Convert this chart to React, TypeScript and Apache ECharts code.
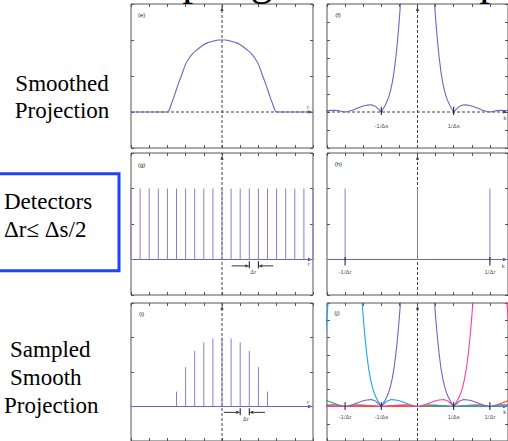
import React, { useEffect, useRef } from "react";
import * as echarts from "echarts";

// ---------- data ----------
// (e) smoothed projection p(r)
const smoothR = [-5, -3, -2.8, -2.6, -2.4, -2.2, -2, -1.8, -1.6, -1.4, -1.2, -1, -0.8, -0.6, -0.4, -0.2, 0, 0.2, 0.4, 0.6, 0.8, 1, 1.2, 1.4, 1.6, 1.8, 2, 2.2, 2.4, 2.6, 2.8, 3, 5];
const smoothP = [0, 0, 0.2, 0.48, 0.78, 1.05, 1.33, 1.5, 1.63, 1.72, 1.8, 1.87, 1.92, 1.95, 1.98, 2, 2, 2, 1.98, 1.95, 1.92, 1.87, 1.8, 1.72, 1.63, 1.5, 1.33, 1.05, 0.78, 0.48, 0.2, 0, 0];

// (g) detector comb
const detectorR = [-5, -4.5, -4, -3.5, -3, -2.5, -2, -1.5, -1, -0.5, 0, 0.5, 1, 1.5, 2, 2.5, 3, 3.5, 4, 4.5, 5];
const detectorP = [2, 2, 2, 2, 2, 2, 2, 2, 2, 2, 2, 2, 2, 2, 2, 2, 2, 2, 2, 2, 2];

// (h) spectrum of the comb
const detectorK = [-4, 0, 4];
const detectorA = [2, 2, 2];

// (i) sampled projection
const sampledR = [-2.5, -2, -1.5, -1, -0.5, 0, 0.5, 1, 1.5, 2, 2.5];
const sampledP = [0.43, 1.14, 1.61, 1.86, 1.97, 2, 1.97, 1.86, 1.61, 1.14, 0.43];

// (f) spectrum magnitude, one half (|k| offset -> value), mirrored about its centre
const specOffset = [0.8, 0.9, 1.0, 1.1, 1.2, 1.3, 1.4, 1.5, 1.6, 1.7, 1.8, 1.9, 2.0, 2.15, 2.3, 2.55, 2.8, 3.0, 3.3, 3.6, 3.85, 4.0, 4.3, 4.6, 5.0, 5.5, 6.0, 6.5, 7.0, 7.5, 8.0, 9.0, 10.0, 11.0, 12.0, 13.0, 14.0, 15.0, 17.0];
const specValue = [8.5, 6.6, 5.2, 4.0, 3.0, 2.2, 1.6, 1.15, 0.8, 0.55, 0.35, 0.17, 0, 0.16, 0.3, 0.4, 0.38, 0.33, 0.22, 0.1, 0.03, 0, 0.06, 0.1, 0.08, 0.04, 0, 0.04, 0.05, 0.03, 0, 0.02, 0, 0.02, 0, 0.01, 0, 0.01, 0];

// (j) aliased replicas of the spectrum
const aliasCenters = [-12, 12, -8, 8, -4, 4, 0];
const aliasColors = ["#e8c000", "#e8c000", "#2eaa44", "#ff4c1c", "#1da4ea", "#ff3c98", "#7561c6"];

const fMarkK = [-2, 2];
const fMarkText = ["-1/Δs", "1/Δs"];
const hMarkK = [-4, 4];
const hMarkText = ["-1/Δr", "1/Δr"];
const jMarkK = [-4, -2, 2, 4];
const jMarkText = ["-1/Δr", "-1/Δs", "1/Δs", "1/Δr"];
const panelTags = ["(e)", "(f)", "(g)", "(h)", "(i)", "(j)"];

// ---------- layout ----------
const PURPLE = "#7561c6";
const STICK = "#8e7ad2";
const W = 182;
const PANELS = [
  { left: 131, top: 4, height: 144, ymin: -1, ymax: 3, tag: [141.7, 15] },
  { left: 327, top: 4, height: 144, ymin: -2, ymax: 6, tag: [338, 15] },
  { left: 131, top: 153, height: 142, ymin: -1, ymax: 3, tag: [141.7, 165] },
  { left: 327, top: 153, height: 142, ymin: -1, ymax: 3, tag: [338.3, 164] },
  { left: 131, top: 303, height: 142, ymin: -1, ymax: 3, tag: [141.7, 314] },
  { left: 327, top: 303, height: 142, ymin: -2, ymax: 6, tag: [337, 313] },
];

function mirrored(center: number) {
  const pts: number[][] = [];
  for (let i = specOffset.length - 1; i >= 0; i--) pts.push([center - specOffset[i], specValue[i]]);
  for (let i = 0; i < specOffset.length; i++) pts.push([center + specOffset[i], specValue[i]]);
  return pts.filter((p) => p[0] >= -7 && p[0] <= 7);
}

function segSeries(gi: number, data: number[][], color: string, width: number, dash?: number[], z = 3) {
  return {
    type: "custom",
    xAxisIndex: 2 * gi,
    yAxisIndex: 2 * gi,
    z,
    silent: true,
    data,
    encode: { x: [0, 2], y: [1, 3] },
    renderItem: (_p: any, api: any) => {
      const a = api.coord([api.value(0), api.value(1)]);
      const b = api.coord([api.value(2), api.value(3)]);
      const style: any = { stroke: color, lineWidth: width };
      if (dash) style.lineDash = dash;
      return { type: "line", shape: { x1: a[0], y1: a[1], x2: b[0], y2: b[1] }, style };
    },
  };
}

function arrowSeries(gi: number, data: number[][], color: string, drawLine: boolean, z = 4) {
  return {
    type: "custom",
    xAxisIndex: 2 * gi,
    yAxisIndex: 2 * gi,
    z,
    silent: true,
    data,
    encode: { x: [0, 2], y: [1, 3] },
    renderItem: (_p: any, api: any) => {
      const a = api.coord([api.value(0), api.value(1)]);
      const b = api.coord([api.value(2), api.value(3)]);
      const dx = b[0] - a[0];
      const dy = b[1] - a[1];
      const len = Math.hypot(dx, dy) || 1;
      const ux = dx / len;
      const uy = dy / len;
      const L = 4;
      const H = 1.7;
      const bx = b[0] - ux * L;
      const by = b[1] - uy * L;
      const children: any[] = [];
      if (drawLine)
        children.push({ type: "line", shape: { x1: a[0], y1: a[1], x2: bx, y2: by }, style: { stroke: color, lineWidth: 1 } });
      children.push({
        type: "polygon",
        shape: { points: [[b[0], b[1]], [bx - uy * H, by + ux * H], [bx + uy * H, by - ux * H]] },
        style: { fill: color },
      });
      return { type: "group", children };
    },
  };
}

function labelSeries(gi: number, items: any[][]) {
  return {
    type: "scatter",
    xAxisIndex: 2 * gi,
    yAxisIndex: 2 * gi,
    z: 6,
    silent: true,
    symbolSize: 0,
    data: items.map(([x, y, t]) => ({ value: [x, y], name: t })),
    label: { show: true, position: "inside", formatter: "{b}", fontSize: 6, color: "#222", fontFamily: "Liberation Sans" },
  };
}

function lineSeries(gi: number, data: number[][], color: string, width = 1.1, z = 3, smooth: any = false) {
  return {
    type: "line",
    xAxisIndex: 2 * gi,
    yAxisIndex: 2 * gi,
    z,
    silent: true,
    showSymbol: false,
    symbol: "none",
    smooth,
    clip: true,
    data,
    lineStyle: { color, width },
  };
}

function buildOption() {
  const grid: any[] = [];
  const xAxis: any[] = [];
  const yAxis: any[] = [];
  const series: any[] = [];
  const tick = { show: true, inside: true, length: 3, lineStyle: { color: "#555", width: 1 } };
  const noLine = { show: false, onZero: false };

  PANELS.forEach((p, gi) => {
    grid.push({ left: p.left, top: p.top, width: W, height: p.height, show: true, borderColor: "#555", borderWidth: 1, backgroundColor: "transparent" });
    for (const pos of ["bottom", "top"]) {
      xAxis.push({ gridIndex: gi, type: "value", min: -5, max: 5, interval: 1, position: pos, axisLine: noLine, axisTick: tick, axisLabel: { show: false }, splitLine: { show: false } });
    }
    for (const pos of ["left", "right"]) {
      yAxis.push({ gridIndex: gi, type: "value", min: p.ymin, max: p.ymax, interval: 1, position: pos, axisLine: noLine, axisTick: tick, axisLabel: { show: false }, splitLine: { show: false } });
    }
    const range = p.ymax - p.ymin;
    // dashed coordinate axes
    series.push(segSeries(gi, [[-5, 0, 4.9, 0], [0, p.ymin, 0, p.ymax]], "#444", 1, [3, 2], 1));
    series.push(arrowSeries(gi, [[4.4, 0, 4.95, 0], [0, p.ymax - 0.2 * range, 0, p.ymax - 0.02 * range]], "#444", false, 1));
  });

  // (e)
  series.push(lineSeries(0, smoothR.map((r, i) => [r, smoothP[i]]), PURPLE, 1.1, 3, 0.25));
  series.push(labelSeries(0, [[4.72, 0.15, "r"]]));

  // (f)
  series.push(lineSeries(1, mirrored(0), PURPLE, 1.1));
  series.push(segSeries(1, fMarkK.map((k) => [k, -0.17, k, 0.29]), "#111", 1, undefined, 4));
  series.push(labelSeries(1, [...fMarkK.map((k, i) => [k, -0.78, fMarkText[i]]), [4.84, -0.35, "k"]]));

  // (g)
  series.push(segSeries(2, [[-5, 0, 5, 0]], PURPLE, 1.1, undefined, 2));
  series.push(segSeries(2, detectorR.map((r, i) => [r, 0, r, detectorP[i]]), STICK, 1));
  series.push(arrowSeries(2, [[0.53, -0.18, 1.5, -0.18], [2.82, -0.18, 2, -0.18]], "#333", true));
  series.push(segSeries(2, [[1.5, -0.05, 1.5, -0.25], [2, -0.05, 2, -0.25]], "#111", 1, undefined, 4));
  series.push(labelSeries(2, [[1.72, -0.35, "Δr"], [4.76, -0.14, "r"]]));

  // (h)
  series.push(segSeries(3, [[-5, 0, 5, 0]], PURPLE, 1.1, undefined, 2));
  series.push(segSeries(3, detectorK.map((k, i) => [k, 0, k, detectorA[i]]), STICK, 1));
  series.push(segSeries(3, hMarkK.map((k) => [k, -0.17, k, 0.07]), "#111", 1, undefined, 4));
  series.push(labelSeries(3, [...hMarkK.map((k, i) => [k, -0.36, hMarkText[i]]), [4.74, -0.17, "k"]]));

  // (i)
  series.push(segSeries(4, [[-5, 0, 5, 0]], PURPLE, 1.1, undefined, 2));
  series.push(segSeries(4, sampledR.map((r, i) => [r, 0, r, sampledP[i]]), STICK, 1));
  series.push(arrowSeries(4, [[0.1, -0.17, 1, -0.17], [2.36, -0.17, 1.5, -0.17]], "#333", true));
  series.push(segSeries(4, [[1, -0.05, 1, -0.25], [1.5, -0.05, 1.5, -0.25]], "#111", 1, undefined, 4));
  series.push(labelSeries(4, [[1.3, -0.35, "Δr"], [4.72, 0.13, "r"]]));

  // (j)
  aliasCenters.forEach((c, i) => series.push(lineSeries(5, mirrored(c), aliasColors[i], 1.1, 2 + i * 0.01)));
  series.push(segSeries(5, jMarkK.map((k) => [k, -0.2, k, 0.25]), "#111", 1, undefined, 4));
  series.push(labelSeries(5, [...jMarkK.map((k, i) => [k, -0.6, jMarkText[i]]), [4.82, -0.31, "k"]]));

  const txt = (text: string, x: number, y: number, size: number, align = "left") => ({
    type: "text",
    x,
    y,
    silent: true,
    style: {
      text,
      fontFamily: "Liberation Serif",
      fontSize: size,
      fill: "#000",
      align,
      verticalAlign: "middle",
      textAlign: align,
      textVerticalAlign: "middle",
    },
  });

  const graphic: any[] = [
    txt("Sampling in Radon Space", 104, -20, 44),
    txt("Smoothed", 62, 83, 23, "center"),
    txt("Projection", 62, 110, 23, "center"),
    {
      type: "rect",
      silent: true,
      shape: { x: -3, y: 173.7, width: 122, height: 97 },
      style: { fill: "none", stroke: "#1c44f4", lineWidth: 3 },
    },
    txt("Detectors", 4, 201, 23),
    txt("Δr≤ Δs/2", 4, 229, 23),
    txt("Sampled", 10, 349, 23),
    txt("Smooth", 10, 377, 23),
    txt("Projection", 4, 405, 23),
  ];
  PANELS.forEach((p, i) => {
    graphic.push({
      type: "text",
      x: p.tag[0],
      y: p.tag[1],
      silent: true,
      style: { text: panelTags[i], fontFamily: "Liberation Sans", fontSize: 6, fill: "#222", align: "center", verticalAlign: "middle", textAlign: "center", textVerticalAlign: "middle" },
    });
  });

  return { animation: false, backgroundColor: "#fff", grid, xAxis, yAxis, series, graphic };
}

export default function App() {
  const ref = useRef<HTMLDivElement>(null);
  useEffect(() => {
    if (!ref.current) return;
    const chart = echarts.init(ref.current, undefined, { renderer: "svg" });
    chart.setOption(buildOption() as any);
    return () => chart.dispose();
  }, []);
  return <div ref={ref} style={{ position: "fixed", left: 0, top: 0, width: 508, height: 441, background: "#fff" }} />;
}
